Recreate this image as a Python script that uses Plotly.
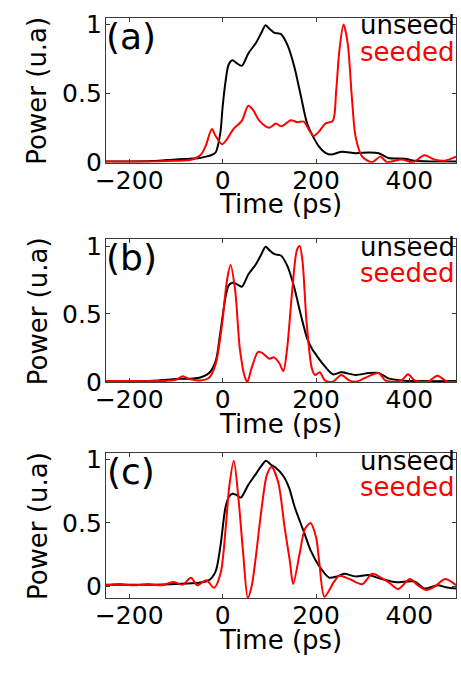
import plotly.graph_objects as go

# ---------------- data ----------------
# Panel (a)
t_a_unseed = [-250, -200, -150, -100, -70, -50, -36, -25, -15, -5, 0, 6, 13, 21, 30, 41, 55, 72, 83, 92, 100, 111, 125, 139, 153, 167, 181, 192, 206, 220, 233, 254, 285, 313, 334, 355, 390, 411, 450, 500]
p_a_unseed = [0.005, 0.005, 0.008, 0.02, 0.025, 0.03, 0.04, 0.05, 0.07, 0.21, 0.40, 0.58, 0.71, 0.74, 0.72, 0.70, 0.79, 0.87, 0.94, 0.995, 0.97, 0.94, 0.93, 0.85, 0.70, 0.49, 0.28, 0.196, 0.115, 0.068, 0.055, 0.075, 0.065, 0.07, 0.065, 0.03, 0.025, 0.01, 0.005, 0.005]

t_a_seeded = [-250, -200, -150, -100, -70, -57, -45, -36, -23, -15, -1, 10, 23, 41, 55, 65, 79, 100, 114, 126, 146, 160, 174, 184, 195, 206, 220, 236, 243, 250, 259, 268, 277, 285, 299, 320, 338, 352, 383, 408, 432, 453, 474, 500]
p_a_seeded = [0.005, 0.005, 0.005, 0.01, 0.015, 0.03, 0.06, 0.12, 0.24, 0.19, 0.13, 0.17, 0.24, 0.30, 0.41, 0.38, 0.30, 0.25, 0.28, 0.26, 0.305, 0.29, 0.295, 0.24, 0.19, 0.22, 0.28, 0.30, 0.51, 0.81, 1.0, 0.86, 0.46, 0.18, 0.04, 0.0, 0.04, 0.0, 0.02, 0.0, 0.05, 0.02, 0.01, 0.04]

# Panel (b)
t_b_unseed = [-250, -200, -150, -100, -50, -29, -15, -5, 6, 13, 21, 30, 41, 55, 72, 83, 92, 100, 111, 125, 139, 153, 167, 181, 192, 200, 215, 236, 254, 285, 313, 334, 355, 383, 420, 500]
p_b_unseed = [0.005, 0.005, 0.008, 0.02, 0.03, 0.065, 0.15, 0.36, 0.62, 0.71, 0.73, 0.72, 0.70, 0.79, 0.87, 0.94, 0.995, 0.97, 0.94, 0.93, 0.85, 0.70, 0.50, 0.32, 0.24, 0.20, 0.13, 0.055, 0.07, 0.05, 0.065, 0.065, 0.025, 0.01, 0.005, 0.005]

t_b_seeded = [-250, -200, -150, -120, -100, -85, -71, -50, -29, -15, -1, 9, 17, 27, 37, 48, 53, 62, 76, 86, 100, 110, 121, 130, 138, 149, 159, 165, 171, 180, 191, 198, 208, 219, 236, 254, 271, 285, 306, 334, 348, 362, 383, 397, 411, 439, 460, 481, 500]
p_b_seeded = [0.005, 0.005, 0.005, 0.008, 0.015, 0.04, 0.02, 0.01, 0.03, 0.13, 0.43, 0.74, 0.86, 0.67, 0.24, 0.03, 0.0, 0.10, 0.22, 0.21, 0.17, 0.18, 0.14, 0.08, 0.24, 0.67, 0.97, 1.0, 0.89, 0.43, 0.10, 0.05, 0.07, 0.01, 0.0, 0.05, 0.01, 0.0, 0.03, 0.065, 0.01, 0.0, 0.01, 0.055, 0.01, 0.0, 0.045, 0.0, 0.0]

# Panel (c)
t_c_unseed = [-250, -200, -150, -100, -50, -29, -15, -5, 6, 14, 21, 30, 39, 55, 72, 83, 93, 103, 112, 130, 142, 154, 175, 189, 207, 228, 245, 260, 285, 313, 334, 369, 411, 432, 460, 481, 500]
p_c_unseed = [0.015, 0.015, 0.015, 0.02, 0.03, 0.05, 0.12, 0.31, 0.62, 0.71, 0.73, 0.72, 0.70, 0.80, 0.89, 0.95, 0.99, 0.96, 0.94, 0.87, 0.78, 0.63, 0.42, 0.28, 0.16, 0.07, 0.08, 0.10, 0.08, 0.09, 0.066, 0.035, 0.04, -0.015, 0.01, -0.008, -0.015]

t_c_seeded = [-250, -220, -190, -160, -130, -106, -85, -68, -54, -35, -18, -4, 7, 14, 24, 34, 44, 54, 62, 70, 84, 95, 105, 119, 133, 144, 151, 165, 176, 188, 200, 207, 218, 239, 250, 271, 299, 320, 341, 355, 376, 401, 418, 436, 453, 477, 500]
p_c_seeded = [0.01, 0.02, 0.01, 0.02, 0.01, 0.035, 0.015, 0.07, 0.01, 0.05, -0.01, 0.11, 0.48, 0.78, 0.99, 0.69, 0.26, -0.09, 0.0, 0.20, 0.63, 0.88, 0.94, 0.82, 0.46, 0.20, 0.02, 0.26, 0.45, 0.50, 0.39, 0.19, -0.08, 0.04, 0.085, 0.06, 0.018, 0.10, 0.066, 0.035, -0.02, 0.06, 0.01, -0.028, -0.003, 0.06, 0.01]

panels = [
    ("(a)", t_a_unseed, p_a_unseed, t_a_seeded, p_a_seeded, [-0.005, 1.05]),
    ("(b)", t_b_unseed, p_b_unseed, t_b_seeded, p_b_seeded, [-0.005, 1.05]),
    ("(c)", t_c_unseed, p_c_unseed, t_c_seeded, p_c_seeded, [-0.092, 1.05]),
]
x_ticks = [-200, 0, 200, 400]
y_ticks = [0, 0.5, 1]
y_ticklabels = ["0", "0.5", "1"]

# ---------------- layout geometry ----------------
W, H = 461, 679
FONT = "DejaVu Sans"
x_left, x_right = 98, 456
panel_px = [(10, 160), (239, 387), (460, 610)]  # top, bottom in pixels

fig = go.Figure()
layout = dict(
    width=W, height=H,
    margin=dict(l=0, r=0, t=0, b=0),
    paper_bgcolor="white", plot_bgcolor="white",
    showlegend=False,
    font=dict(family=FONT, size=25, color="black"),
)
annotations = []
frame = "#3a3a3a"
for i, (lab, tu, pu, ts, ps, yr) in enumerate(panels):
    n = "" if i == 0 else str(i + 1)
    xa, ya = "x" + n, "y" + n
    top, bot = panel_px[i]
    fig.add_trace(go.Scatter(x=tu, y=pu, mode="lines", xaxis=xa, yaxis=ya,
                             line=dict(color="black", width=2, shape="spline", smoothing=0.8)))
    fig.add_trace(go.Scatter(x=ts, y=ps, mode="lines", xaxis=xa, yaxis=ya,
                             line=dict(color="red", width=2, shape="spline", smoothing=0.8)))
    layout["xaxis" + n] = dict(
        domain=[x_left / W, x_right / W], anchor=ya, range=[-250, 500],
        tickvals=x_ticks, ticks="inside", ticklen=4, tickcolor=frame,
        showline=True, linecolor=frame, linewidth=1, mirror="ticks",
        showgrid=False, zeroline=False, tickfont=dict(size=25),
        ticklabelstandoff=-5,
    )
    layout["yaxis" + n] = dict(
        domain=[1 - bot / H, 1 - top / H], anchor=xa, range=yr,
        tickvals=y_ticks, ticktext=y_ticklabels, ticks="inside", ticklen=4, tickcolor=frame,
        showline=True, linecolor=frame, linewidth=1, mirror="ticks",
        showgrid=False, zeroline=False, tickfont=dict(size=25),
        ticklabelstandoff=-2,
    )
    cy = (top + bot) / 2
    annotations += [
        dict(text="Power (u.a)", textangle=-90, x=28 / W, y=1 - cy / H, xref="paper", yref="paper",
             showarrow=False, font=dict(size=26), xanchor="center", yanchor="middle"),
        dict(text="Time (ps)", x=(x_left + x_right) / 2 / W, y=1 - (bot + 43) / H, xref="paper", yref="paper",
             showarrow=False, font=dict(size=26), xanchor="center", yanchor="middle"),
        dict(text=lab, x=124 / W, y=1 - (top + 19) / H, xref="paper", yref="paper",
             showarrow=False, font=dict(size=36), xanchor="center", yanchor="middle"),
        dict(text="unseed", x=457 / W, y=1 - (top + 8) / H, xref="paper", yref="paper",
             showarrow=False, font=dict(size=26, color="black"), xanchor="right", yanchor="middle"),
        dict(text="seeded", x=457 / W, y=1 - (top + 35) / H, xref="paper", yref="paper",
             showarrow=False, font=dict(size=26, color="red"), xanchor="right", yanchor="middle"),
    ]
layout["annotations"] = annotations
fig.update_layout(**layout)
fig.write_html("out.html",
               config={"displayModeBar": False},
               post_script="document.body.style.margin='0';document.body.style.overflow='hidden';")
